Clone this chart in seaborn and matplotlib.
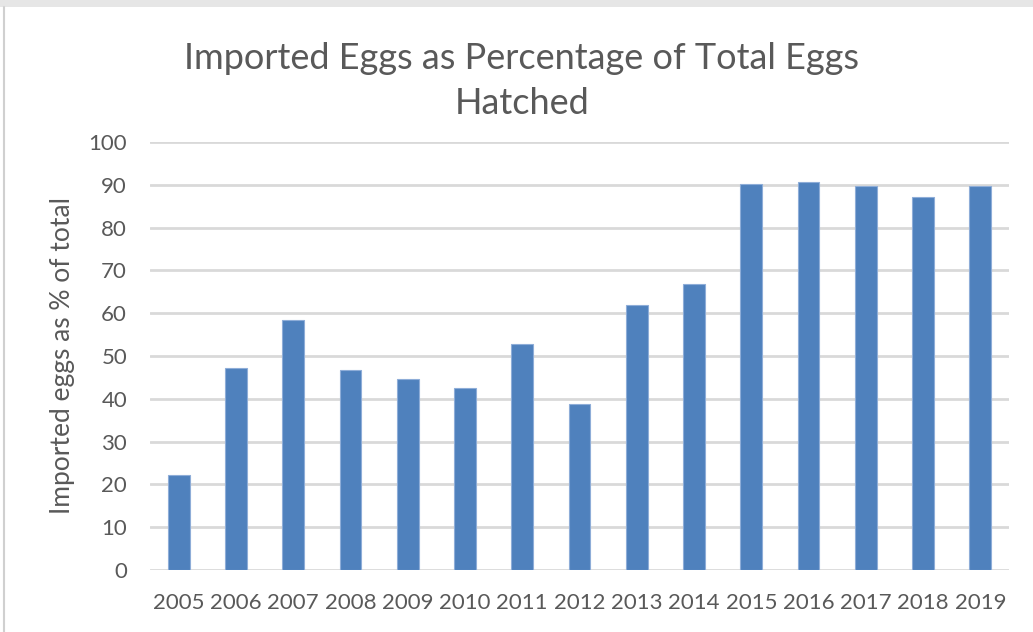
import matplotlib
matplotlib.use("Agg")
import matplotlib.pyplot as plt
from matplotlib.patches import Rectangle
from matplotlib.lines import Line2D
import seaborn as sns
import pandas as pd

years = ["2005", "2006", "2007", "2008", "2009", "2010", "2011", "2012",
         "2013", "2014", "2015", "2016", "2017", "2018", "2019"]
imported_pct = [22.2, 47.2, 58.3, 46.8, 44.6, 42.6, 52.9, 38.9,
                61.9, 66.9, 90.1, 90.7, 89.8, 87.1, 89.8]
y_ticks = [0, 10, 20, 30, 40, 50, 60, 70, 80, 90, 100]

df = pd.DataFrame({"year": years, "pct": imported_pct})

sns.set_theme(style="white")
plt.rcParams["font.family"] = ["Lato", "DejaVu Sans"]

text_grey = "#595959"
grid_grey = "#D9D9D9"
bar_blue = "#4F81BD"

W, H = 1033, 632
fig = plt.figure(figsize=(W / 100, H / 100), dpi=100)
fig.patch.set_facecolor("white")

ax = fig.add_axes([150 / W, 1 - 570 / H, 859 / W, 428 / H])

sns.barplot(data=df, x="year", y="pct", color=bar_blue, width=0.38,
            edgecolor="#8EADD8", linewidth=0.8, saturation=1, ax=ax, zorder=3)

ax.set_ylim(0, 100)
ax.set_xlim(-0.5, len(years) - 0.5)
ax.set_yticks(y_ticks)
ax.set_yticklabels([str(t) for t in y_ticks])
ax.yaxis.grid(True, color=grid_grey, linewidth=2, zorder=0)
ax.set_axisbelow(True)
for side in ["top", "right", "left", "bottom"]:
    ax.spines[side].set_visible(False)
ax.tick_params(axis="x", length=0, labelsize=16, colors=text_grey, pad=16.5)
ax.tick_params(axis="y", length=0, labelsize=16, colors=text_grey, pad=16.5)
ax.set_xlabel("")
ax.set_ylabel("")

fig.text(63 / W, 1 - 355 / H, "Imported eggs as % of total", rotation=90,
         ha="center", va="center", fontsize=19, color=text_grey)

fig.text(522 / W, 1 - 81 / H,
         "Imported Eggs as Percentage of Total Eggs\nHatched",
         ha="center", va="center", fontsize=26, color=text_grey, linespacing=1.45)

# chart frame
fig.add_artist(Rectangle((0, 1 - 7 / H), 1, 7 / H, transform=fig.transFigure,
                         facecolor="#E6E6E6", edgecolor="none"))
fig.add_artist(Line2D([4 / W, 4 / W], [0, 1 - 7 / H], transform=fig.transFigure,
                      color="#D0D0D0", linewidth=1.5))

fig.savefig("out.png", dpi=100, facecolor="white")
